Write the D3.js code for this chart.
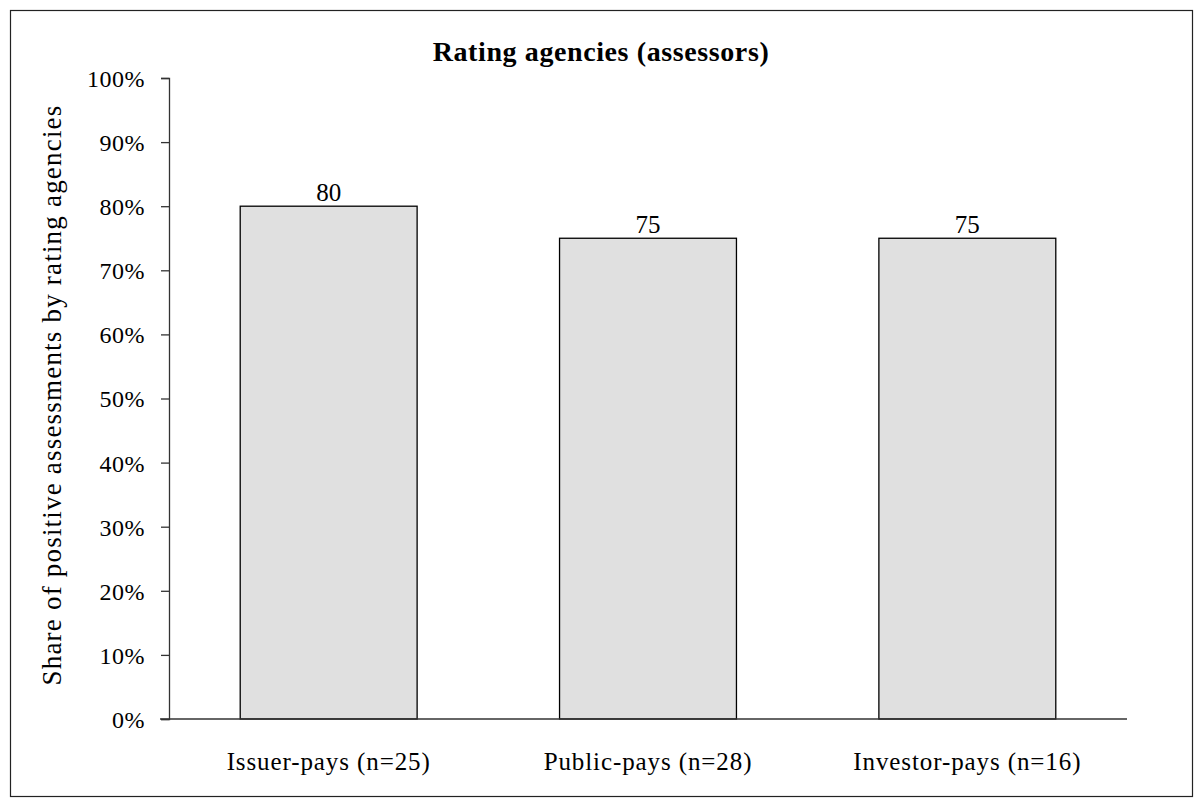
<!DOCTYPE html>
<html lang="en">
  <head>
    <meta charset="UTF-8" />
    <title>Rating agencies (assessors)</title>
    <script src="https://cdn.jsdelivr.net/npm/d3@7"></script>
    <style>
      body { margin: 0; background: #fff; }
      text { font-family: "Liberation Serif", "Times New Roman", serif; fill: #000; }
    </style>
  </head>
  <body>
    <script>
      let categories = ["Issuer-pays (n=25)", "Public-pays (n=28)", "Investor-pays (n=16)"];
      let values = [80, 75, 75];
      let tickValues = [0, 10, 20, 30, 40, 50, 60, 70, 80, 90, 100];

      let width = 1203, height = 807;
      let margin = { top: 78, right: 76, bottom: 88, left: 169 };

      let svg = d3.select("body").append("svg")
        .attr("width", width)
        .attr("height", height);

      // outer frame
      svg.append("rect")
        .attr("x", 10.5).attr("y", 10.5)
        .attr("width", 1182).attr("height", 786)
        .attr("fill", "none").attr("stroke", "#222").attr("stroke-width", 1.2);

      let x = d3.scaleBand()
        .domain(categories)
        .range([margin.left, width - margin.right])
        .paddingInner(0.446)
        .paddingOuter(0.223);

      let y = d3.scaleLinear()
        .domain([0, 100])
        .range([height - margin.bottom, margin.top]);

      // bars
      svg.selectAll("rect.bar")
        .data(values)
        .enter()
        .append("rect")
        .attr("class", "bar")
        .attr("x", (d, i) => x(categories[i]))
        .attr("y", d => y(d))
        .attr("width", x.bandwidth())
        .attr("height", d => y(0) - y(d))
        .attr("fill", "#e0e0e0")
        .attr("stroke", "#000")
        .attr("stroke-width", 1.3);

      // value labels
      svg.selectAll("text.val")
        .data(values)
        .enter()
        .append("text")
        .attr("class", "val")
        .attr("x", (d, i) => x(categories[i]) + x.bandwidth() / 2)
        .attr("y", d => y(d) - 5)
        .attr("text-anchor", "middle")
        .style("font-size", "25px")
        .text(d => d);

      // y axis
      let yAxis = svg.append("g")
        .attr("transform", "translate(" + margin.left + ",0)")
        .call(d3.axisLeft(y).tickValues(tickValues).tickSize(8).tickPadding(16)
          .tickFormat(d => d + "%"));
      yAxis.selectAll("text")
        .style("font-size", "24px")
        .style("letter-spacing", "0.5px")
        .attr("dy", "0.35em");
      yAxis.select(".domain").attr("stroke", "#333").attr("stroke-width", 1.3);
      yAxis.selectAll(".tick line").attr("stroke", "#333").attr("stroke-width", 1.3);

      // x axis
      let xAxis = svg.append("g")
        .attr("transform", "translate(0," + y(0) + ")")
        .call(d3.axisBottom(x).tickSize(0).tickPadding(33));
      xAxis.select(".domain").remove();
      xAxis.append("line")
        .attr("x1", margin.left - 9).attr("x2", width - margin.right)
        .attr("y1", 0).attr("y2", 0)
        .attr("stroke", "#333").attr("stroke-width", 1.5);
      xAxis.selectAll("text")
        .style("font-size", "25px")
        .style("letter-spacing", "0.9px");

      // title
      svg.append("text")
        .attr("x", 601)
        .attr("y", 61)
        .attr("text-anchor", "middle")
        .style("font-size", "28px")
        .style("font-weight", "bold")
        .style("letter-spacing", "0.6px")
        .text("Rating agencies (assessors)");

      // y label
      svg.append("text")
        .attr("transform", "translate(61,395) rotate(-90)")
        .attr("text-anchor", "middle")
        .style("font-size", "27px")
        .style("letter-spacing", "1.2px")
        .text("Share of positive assessments by rating agencies");
    </script>
  </body>
</html>
